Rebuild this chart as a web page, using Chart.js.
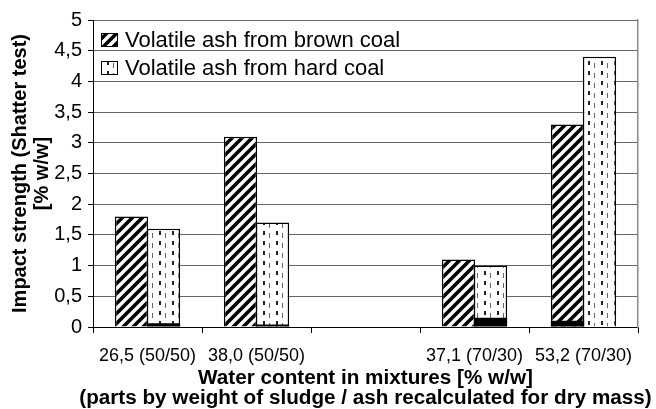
<!DOCTYPE html>
<html>
<head>
<meta charset="utf-8">
<script src="https://cdn.jsdelivr.net/npm/chart.js@4.4.1/dist/chart.umd.min.js"></script>
<style>
  html, body { margin: 0; padding: 0; background: #fff; }
  #wrap { width: 656px; height: 409px; }
</style>
</head>
<body>
<div id="wrap"><canvas id="c" width="656" height="409"></canvas></div>
<script>
const categories = ['26,5 (50/50)', '38,0 (50/50)', '', '37,1 (70/30)', '53,2 (70/30)'];
const brownCoal = [1.8, 3.1, null, 1.1, 3.3];
const hardCoal = [1.6, 1.7, null, 1.0, 4.4];
const brownCoalBase = [null, null, null, null, 0.1];
const hardCoalBase = [0.06, 0.04, null, 0.15, null];
const yTickLabels = ['0', '0,5', '1', '1,5', '2', '2,5', '3', '3,5', '4', '4,5', '5'];
const seriesLabels = ['Volatile ash from brown coal', 'Volatile ash from hard coal'];
const xTitle = ['Water content in mixtures [% w/w]', '(parts by weight of sludge / ash recalculated for dry mass)'];
const yTitle = ['Impact strength (Shatter test)', '[% w/w]'];

const FONT = '"Liberation Sans", Arial, sans-serif';

function hatchPattern() {
  const s = 10;
  const c = document.createElement('canvas');
  c.width = s; c.height = s;
  const g = c.getContext('2d');
  g.fillStyle = '#fff'; g.fillRect(0, 0, s, s);
  g.strokeStyle = '#000'; g.lineWidth = 3.6; g.lineCap = 'square';
  g.beginPath();
  g.moveTo(0, s); g.lineTo(s, 0);
  g.moveTo(-2, 2); g.lineTo(2, -2);
  g.moveTo(s - 2, s + 2); g.lineTo(s + 2, s - 2);
  g.stroke();
  return g.createPattern(c, 'repeat');
}
function dashPattern() {
  const w = 13, h = 10;
  const c = document.createElement('canvas');
  c.width = w; c.height = h;
  const g = c.getContext('2d');
  g.fillStyle = '#fff'; g.fillRect(0, 0, w, h);
  g.fillStyle = '#222'; g.fillRect(3, 1, 2, 4);
  g.fillStyle = '#666'; g.fillRect(9, 3, 1, 5);
  return g.createPattern(c, 'repeat');
}
const hatch = hatchPattern();
const dashes = dashPattern();

const legendPlugin = {
  id: 'innerLegend',
  afterDatasetsDraw(chart) {
    const ctx = chart.ctx;
    const a = chart.chartArea;
    const items = [
      { label: seriesLabels[0], fill: hatch },
      { label: seriesLabels[1], fill: dashes }
    ];
    ctx.save();
    ctx.font = '22px ' + FONT;
    ctx.textBaseline = 'middle';
    ctx.textAlign = 'left';
    items.forEach((it, i) => {
      const cy = a.top + 20 + i * 28;
      const x = a.left + 8;
      ctx.fillStyle = it.fill;
      ctx.fillRect(x, cy - 7, 17, 14);
      ctx.strokeStyle = '#000';
      ctx.lineWidth = 1;
      ctx.strokeRect(x + 0.5, cy - 6.5, 16, 13);
      ctx.fillStyle = '#000';
      ctx.fillText(it.label, x + 24, cy + 1);
    });
    ctx.restore();
  }
};

const xTitlePlugin = {
  id: 'xTitle',
  afterDraw(chart) {
    const ctx = chart.ctx;
    const a = chart.chartArea;
    const cx = (a.left + a.right) / 2;
    ctx.save();
    ctx.font = 'bold 20.7px ' + FONT;
    ctx.fillStyle = '#000';
    ctx.textAlign = 'center';
    ctx.textBaseline = 'middle';
    xTitle.forEach((t, i) => ctx.fillText(t, cx, a.bottom + 51 + i * 20));
    ctx.restore();
  }
};

new Chart(document.getElementById('c'), {
  type: 'bar',
  data: {
    labels: categories,
    datasets: [
      { label: 'base brown', data: brownCoalBase, stack: 'a', order: 0, backgroundColor: '#000', borderWidth: 0 },
      { label: 'base hard', data: hardCoalBase, stack: 'b', order: 0, backgroundColor: '#000', borderWidth: 0 },
      { label: seriesLabels[0], data: brownCoal, stack: 'a', order: 1, backgroundColor: hatch, borderColor: '#000', borderWidth: 1.5 },
      { label: seriesLabels[1], data: hardCoal, stack: 'b', order: 1, backgroundColor: dashes, borderColor: '#000', borderWidth: 1.5 }
    ]
  },
  options: {
    responsive: false,
    animation: false,
    devicePixelRatio: 1,
    categoryPercentage: 0.587,
    barPercentage: 1.04,
    layout: { padding: { left: 0, right: 18, top: 20, bottom: 0 } },
    plugins: { legend: { display: false }, tooltip: { enabled: false } },
    scales: {
      x: {
        stacked: true,
        grid: { offset: true, drawOnChartArea: false, tickLength: 6, color: '#000' },
        border: { color: '#000', width: 1 },
        ticks: { color: '#000', font: { family: FONT, size: 18 }, padding: 12, maxRotation: 0, autoSkip: false },
        title: { display: false },
        afterFit(s) { s.height = 82; }
      },
      y: {
        stacked: false,
        min: 0, max: 5,
        ticks: { stepSize: 0.5, color: '#000', font: { family: FONT, size: 20 }, padding: 6, callback: (v, i) => yTickLabels[i] },
        grid: { color: '#666', lineWidth: 1, tickLength: 5, tickColor: '#000' },
        border: { color: '#000', width: 1 },
        title: { display: true, text: yTitle, color: '#000', font: { family: FONT, size: 20, weight: 'bold', lineHeight: 1.1 }, padding: { top: 9, bottom: 0 } },
        afterFit(s) { s.width = 93; }
      },
      y2: {
        position: 'right',
        display: true,
        min: 0, max: 5,
        ticks: { display: false },
        grid: { drawOnChartArea: false, drawTicks: false },
        border: { color: '#888', width: 1.5 },
        afterFit(s) { s.width = 0; }
      }
    }
  },
  plugins: [legendPlugin, xTitlePlugin]
});
</script>
</body>
</html>
